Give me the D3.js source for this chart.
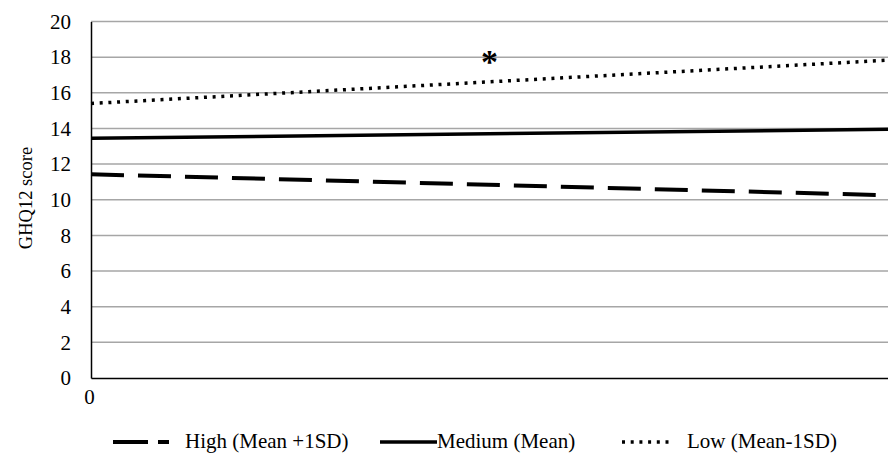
<!DOCTYPE html>
<html>
<head>
<meta charset="utf-8">
<script src="https://cdn.jsdelivr.net/npm/d3@7"></script>
<style>
  body { margin: 0; background: #fff; }
</style>
</head>
<body>
<div id="viz"></div>
<script>
// data
const xPoints = [0, 1];
const seriesNames = ['High (Mean +1SD)', 'Medium (Mean)', 'Low (Mean-1SD)'];
const highValues = [11.43, 10.25];
const mediumValues = [13.45, 13.95];
const lowValues = [15.4, 17.83];
const yTicks = [0, 2, 4, 6, 8, 10, 12, 14, 16, 18, 20];
const xTicks = [0];
const markX = 0.5, markY = 18;

const w = 888, h = 456;
const plotLeft = 91, plotRight = 888, plotTop = 21.5, plotBottom = 378;
const serif = "'Liberation Serif', 'Times New Roman', serif";

const svg = d3.select('#viz').append('svg')
  .attr('width', w).attr('height', h)
  .attr('font-family', serif);

const xScale = d3.scaleLinear().domain([0, 1]).range([plotLeft, plotRight]);
const yScale = d3.scaleLinear().domain([0, 20]).range([plotBottom, plotTop]);

// gridlines
svg.append('g').selectAll('line')
  .data(yTicks.filter(d => d > 0))
  .enter().append('line')
  .attr('x1', plotLeft).attr('x2', plotRight)
  .attr('y1', d => yScale(d)).attr('y2', d => yScale(d))
  .attr('stroke', '#a6a6a6').attr('stroke-width', 1.5);

// y axis
const yAxis = d3.axisLeft(yScale).tickValues(yTicks).tickSize(0).tickPadding(20);
const gy = svg.append('g').attr('transform', 'translate(' + plotLeft + ',0)').call(yAxis)
  .attr('font-family', serif).attr('font-size', 21);
gy.select('.domain').attr('stroke', '#000').attr('stroke-width', 1.5);
gy.selectAll('text').attr('fill', '#000');

// x axis
const xAxis = d3.axisBottom(xScale).tickValues(xTicks).tickSize(0).tickPadding(11)
  .tickFormat(d3.format('d'));
const gx = svg.append('g').attr('transform', 'translate(0,' + plotBottom + ')').call(xAxis)
  .attr('font-family', serif).attr('font-size', 21);
gx.select('.domain').attr('stroke', '#000').attr('stroke-width', 1.5);
gx.selectAll('text').attr('fill', '#000').attr('dx', -2);

svg.append('text')
  .text('GHQ12 score')
  .attr('transform', 'rotate(-90)')
  .attr('x', -198).attr('y', 32)
  .attr('text-anchor', 'middle')
  .attr('font-size', 18.5);

const styles = [
  { dash: '33,14', width: 4 },
  { dash: null, width: 3.5 },
  { dash: '3,5.7', width: 3.5 }
];
const allValues = [highValues, mediumValues, lowValues];

const line = d3.line()
  .x((d, i) => xScale(xPoints[i]))
  .y(d => yScale(d));

allValues.forEach(function (vals, i) {
  svg.append('path')
    .datum(vals)
    .attr('d', line)
    .attr('fill', 'none')
    .attr('stroke', '#000')
    .attr('stroke-width', styles[i].width)
    .attr('stroke-dasharray', styles[i].dash);
});

svg.append('text')
  .text('*')
  .attr('x', xScale(markX))
  .attr('y', yScale(markY) + 16)
  .attr('text-anchor', 'middle')
  .attr('font-size', 34)
  .attr('font-weight', 'bold');

// legend
const legendItems = [
  { x1: 113, x2: 169, tx: 185 },
  { x1: 380, x2: 437, tx: 437 },
  { x1: 622, x2: 672, tx: 687 }
];
const ly = 442;
legendItems.forEach(function (item, i) {
  svg.append('line')
    .attr('x1', item.x1).attr('x2', item.x2)
    .attr('y1', ly).attr('y2', ly)
    .attr('stroke', '#000')
    .attr('stroke-width', styles[i].width)
    .attr('stroke-dasharray', i === 0 ? '35,10' : styles[i].dash);
  svg.append('text')
    .text(seriesNames[i])
    .attr('x', item.tx).attr('y', ly + 6)
    .attr('font-size', 21);
});
</script>
</body>
</html>
